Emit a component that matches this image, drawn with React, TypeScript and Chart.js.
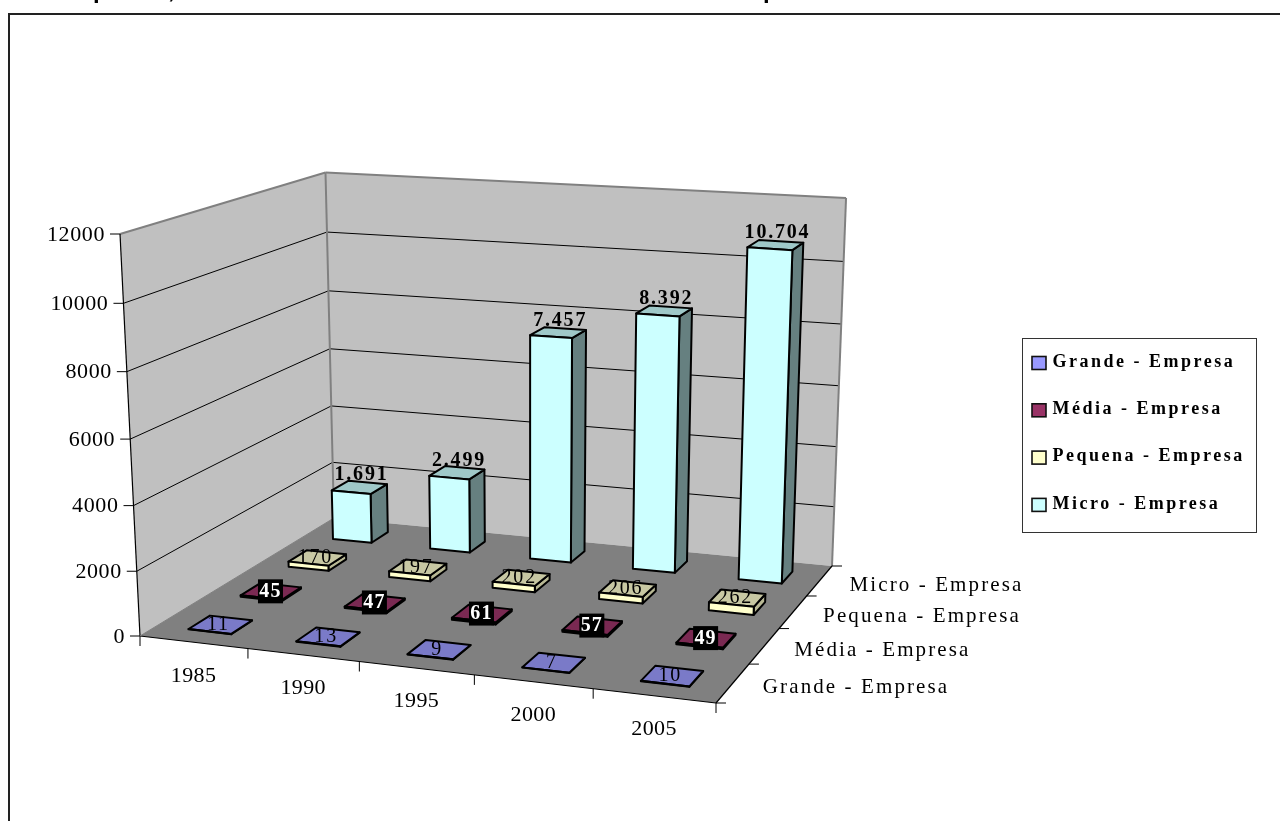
import React, { useEffect, useRef } from "react";
import { Chart, BarController, registerables } from "chart.js";

Chart.register(...registerables);

const years = ["1985", "1990", "1995", "2000", "2005"];
const seriesNames = ["Grande - Empresa", "Média - Empresa", "Pequena - Empresa", "Micro - Empresa"];
const grande = [11, 13, 9, 7, 10];
const media = [45, 47, 61, 57, 49];
const pequena = [170, 197, 202, 206, 262];
const micro = [1691, 2499, 7457, 8392, 10704];
const yMax = 12000;
const yStep = 2000;

type P = [number, number];
// projection frame: floor quad, the quad at the top of the value axis, vertical vanishing point
const FLOOR: P[] = [[140, 636], [716, 703], [832, 566], [334, 518]];
const CEIL: P[] = [[120, 234], [727, 283], [847, 198], [324, 172.5]];
const VP: P = [530, 8480];
const PERSP = 0.04;
const BAR_W = 0.4;
const BAR_D = 0.4;
const SERIF = '"Liberation Serif", "Times New Roman", serif';

function homography(q: P[]) {
  const [[x0, y0], [x1, y1], [x2, y2], [x3, y3]] = q;
  const dx1 = x1 - x2, dx2 = x3 - x2, sx = x0 - x1 + x2 - x3;
  const dy1 = y1 - y2, dy2 = y3 - y2, sy = y0 - y1 + y2 - y3;
  const den = dx1 * dy2 - dx2 * dy1;
  const g = (sx * dy2 - dx2 * sy) / den;
  const h = (dx1 * sy - sx * dy1) / den;
  const a = x1 - x0 + g * x1, b = x3 - x0 + h * x3;
  const d = y1 - y0 + g * y1, e = y3 - y0 + h * y3;
  return (u: number, v: number): P => {
    const w = g * u + h * v + 1;
    return [(a * u + b * v + x0) / w, (d * u + e * v + y0) / w];
  };
}
const H0 = homography(FLOOR);
const H1 = homography(CEIL);
function proj(u: number, v: number, t: number): P {
  const p = H0(u, v), q = H1(u, v);
  const tp = (t * (1 - PERSP)) / (1 - PERSP * t);
  const y = p[1] + (q[1] - p[1]) * tp;
  const x = p[0] + ((p[0] - VP[0]) / (VP[1] - p[1])) * (p[1] - y);
  return [x, y];
}
function poly(ctx: any, pts: P[], fill: string | null, stroke: string | null, lw = 1) {
  ctx.beginPath();
  pts.forEach((p, i) => (i ? ctx.lineTo(p[0], p[1]) : ctx.moveTo(p[0], p[1])));
  ctx.closePath();
  if (fill) { ctx.fillStyle = fill; ctx.fill(); }
  if (stroke) { ctx.strokeStyle = stroke; ctx.lineWidth = lw; ctx.lineJoin = "round"; ctx.stroke(); }
}
function line(ctx: any, a: P, b: P, color: string, lw = 1) {
  ctx.beginPath();
  ctx.moveTo(a[0], a[1]);
  ctx.lineTo(b[0], b[1]);
  ctx.strokeStyle = color;
  ctx.lineWidth = lw;
  ctx.stroke();
}
function text(ctx: any, s: string, x: number, y: number, font: string, spacing: number, align: string, color = "#000") {
  ctx.font = font;
  ctx.letterSpacing = spacing + "px";
  ctx.textAlign = align;
  ctx.textBaseline = "middle";
  ctx.fillStyle = color;
  ctx.fillText(s, x, y);
  ctx.letterSpacing = "0px";
}
const fracX = (s: any, i: number) => (s.getPixelForValue(i) - s.left) / s.width;
const fracDepth = (s: any, i: number) => (s.getPixelForValue(i) - s.top) / s.height;
const fracVal = (s: any, v: number) => (s.bottom - s.getPixelForValue(v)) / s.height;
const fmt = (v: number) => String(v).replace(/\B(?=(\d{3})+$)/g, ".");

class Box3DController extends BarController {
  static id = "box3d";
  static defaults = BarController.defaults;
  static overrides = BarController.overrides;
  draw() {
    const meta: any = this.getMeta();
    const { ctx, scales } = this.chart as any;
    const ds: any = this.getDataset();
    const vc = fracDepth(scales.depth, this.index);
    const hu = BAR_W / years.length / 2;
    const hv = BAR_D / seriesNames.length / 2;
    meta.data.forEach((_: any, i: number) => {
      const uc = fracX(meta.iScale, i);
      const t = fracVal(meta.vScale, (this.getParsed(i) as any).y);
      const [u0, u1, v0, v1] = [uc - hu, uc + hu, vc - hv, vc + hv];
      poly(ctx, [proj(u1, v0, 0), proj(u1, v1, 0), proj(u1, v1, t), proj(u1, v0, t)], ds.sideColor, "#000", 2);
      poly(ctx, [proj(u0, v0, t), proj(u1, v0, t), proj(u1, v1, t), proj(u0, v1, t)], ds.topColor, "#000", 2);
      poly(ctx, [proj(u0, v0, 0), proj(u1, v0, 0), proj(u1, v0, t), proj(u0, v0, t)], ds.backgroundColor, "#000", 2);
    });
  }
}
Chart.register(Box3DController as any);

const scenePlugin = {
  id: "scene",
  beforeDatasetsDraw(chart: any) {
    const { ctx, scales } = chart;
    ctx.save();
    // clipped title and outer frame
    const tf = 'bold 24px "Liberation Sans", Arial, sans-serif';
    ctx.font = tf; ctx.fillStyle = "#000"; ctx.textAlign = "left"; ctx.textBaseline = "alphabetic";
    ctx.fillText("p", 93, -2); ctx.fillText(",", 168, -2); ctx.fillText("p", 763, -2);
    ctx.strokeStyle = "#222"; ctx.lineWidth = 2;
    ctx.strokeRect(9, 14, 1400, 1000);

    // walls and floor
    const wall = "#C0C0C0", edge = "#808080";
    poly(ctx, [proj(0, 0, 0), proj(0, 1, 0), proj(0, 1, 1), proj(0, 0, 1)], wall, null);
    poly(ctx, [proj(0, 1, 0), proj(1, 1, 0), proj(1, 1, 1), proj(0, 1, 1)], wall, null);
    poly(ctx, [proj(0, 0, 0), proj(1, 0, 0), proj(1, 1, 0), proj(0, 1, 0)], "#808080", null);

    // value axis
    const serif22 = `22px ${SERIF}`;
    scales.y.ticks.forEach((tk: any) => {
      const t = fracVal(scales.y, tk.value);
      const a = proj(0, 0, t), b = proj(0, 1, t), c = proj(1, 1, t);
      if (tk.value > 0) {
        const col = tk.value === yMax ? edge : "#000";
        const lw = tk.value === yMax ? 2 : 1;
        line(ctx, a, b, col, lw);
        line(ctx, b, c, col, lw);
      }
      line(ctx, [a[0] - 10, a[1]], a, "#000", 1);
      text(ctx, String(tk.value), a[0] - 15, a[1] + 1, serif22, 0.6, "right");
    });
    line(ctx, proj(0, 1, 0), proj(0, 1, 1), edge, 2);
    line(ctx, proj(1, 1, 0), proj(1, 1, 1), edge, 2);
    line(ctx, proj(0, 0, 0), proj(0, 0, 1), "#000", 1.2);

    // floor edges
    line(ctx, proj(0, 0, 0), proj(1, 0, 0), "#000", 1.2);
    line(ctx, proj(1, 0, 0), proj(1, 1, 0), "#000", 1.2);
    line(ctx, proj(0, 0, 0), proj(0, 1, 0), edge, 1);

    // category axis
    for (let i = 0; i <= years.length; i++) {
      const p = proj(i / years.length, 0, 0);
      line(ctx, p, [p[0], p[1] + 10], "#000", 1);
    }
    years.forEach((y, i) => {
      const p = proj(fracX(scales.x, i), 0, 0);
      text(ctx, y, p[0], p[1] + 33.5, serif22, 0.4, "center");
    });

    // series axis
    for (let i = 0; i <= seriesNames.length; i++) {
      const p = proj(1, i / seriesNames.length, 0);
      line(ctx, p, [p[0] + 10, p[1]], "#000", 1);
    }
    seriesNames.forEach((s, i) => {
      const p = proj(1, fracDepth(scales.depth, i), 0);
      text(ctx, s, p[0] + 30, p[1] + 4.5, `21px ${SERIF}`, 2.1, "left");
    });
    ctx.restore();
  },
  afterDatasetsDraw(chart: any) {
    const { ctx, scales } = chart;
    ctx.save();
    chart.data.datasets.forEach((ds: any, di: number) => {
      const v = fracDepth(scales.depth, di);
      ds.data.forEach((val: number, i: number) => {
        const p = proj(fracX(scales.x, i), v, fracVal(scales.y, val));
        if (ds.labelStyle === "inverse") {
          const f = `bold 20px ${SERIF}`;
          const lab = String(val);
          ctx.fillStyle = "#000";
          ctx.fillRect(p[0] - 13, p[1] - 12, 25, 24);
          text(ctx, lab, p[0] - 0.5, p[1] + 0.5, f, 1.2, "center", "#fff");
        } else if (ds.labelStyle === "bold") {
          text(ctx, fmt(val), p[0] + 2, p[1] - 12, `bold 20px ${SERIF}`, 1.8, "center");
        } else {
          text(ctx, String(val), p[0] - 2, p[1], `20px ${SERIF}`, 1.8, "center");
        }
      });
    });

    // legend
    const L = { x: 1022.5, y: 338.5, w: 234, h: 194 };
    ctx.strokeStyle = "#333"; ctx.lineWidth = 1;
    ctx.fillStyle = "#fff";
    ctx.fillRect(L.x, L.y, L.w, L.h);
    ctx.strokeRect(L.x, L.y, L.w, L.h);
    chart.data.datasets.forEach((ds: any, i: number) => {
      const cy = L.y + 24.5 + i * 47.3;
      ctx.fillStyle = ds.backgroundColor;
      ctx.fillRect(L.x + 9.5, cy - 6.5, 14, 13);
      ctx.strokeStyle = "#111"; ctx.lineWidth = 1.6;
      ctx.strokeRect(L.x + 9.5, cy - 6.5, 14, 13);
      text(ctx, ds.label, L.x + 30, cy - 1, `bold 18px ${SERIF}`, 2.5, "left");
    });
    ctx.restore();
  },
};

export default function App() {
  const ref = useRef<HTMLCanvasElement>(null);
  useEffect(() => {
    const chart = new Chart(ref.current as any, {
      type: "box3d" as any,
      data: {
        labels: years,
        datasets: [
          { label: seriesNames[0], data: grande, backgroundColor: "#9999FF", topColor: "#7A7AC8", sideColor: "#5C5C99", labelStyle: "plain", xAxisID: "x", yAxisID: "y" },
          { label: seriesNames[1], data: media, backgroundColor: "#993366", topColor: "#7A2952", sideColor: "#5C1F3D", labelStyle: "inverse", xAxisID: "x", yAxisID: "y" },
          { label: seriesNames[2], data: pequena, backgroundColor: "#FFFFCC", topColor: "#C8C8A3", sideColor: "#B8B894", labelStyle: "plain", xAxisID: "x", yAxisID: "y" },
          { label: seriesNames[3], data: micro, backgroundColor: "#CCFFFF", topColor: "#9FC8C8", sideColor: "#668080", labelStyle: "bold", xAxisID: "x", yAxisID: "y" },
        ] as any,
      },
      options: {
        animation: false,
        responsive: false,
        devicePixelRatio: 1,
        events: [],
        layout: { padding: 0 },
        plugins: { legend: { display: false }, tooltip: { enabled: false } },
        scales: {
          x: { type: "category", offset: true, display: false },
          y: { type: "linear", min: 0, max: yMax, ticks: { stepSize: yStep }, display: false },
          depth: { type: "category", axis: "y", labels: seriesNames, offset: true, display: false },
        } as any,
      },
      plugins: [scenePlugin as any],
    });
    return () => chart.destroy();
  }, []);
  return (
    <canvas
      ref={ref}
      width={1280}
      height={821}
      style={{ position: "absolute", left: 0, top: 0, width: 1280, height: 821, display: "block" }}
    />
  );
}
